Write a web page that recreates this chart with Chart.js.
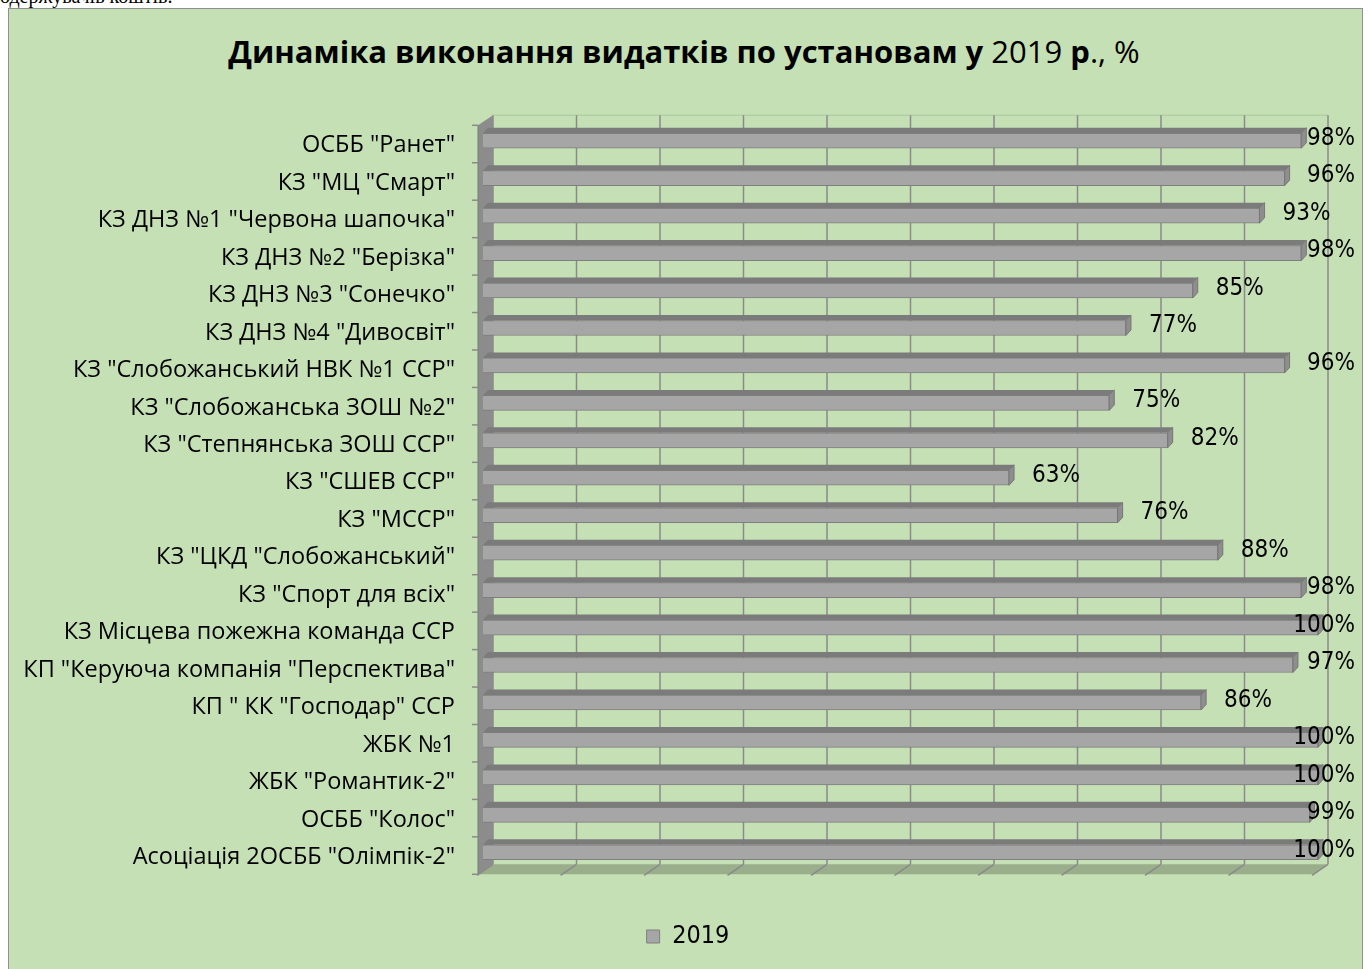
<!DOCTYPE html>
<html>
<head>
<meta charset="utf-8">
<script src="https://cdn.jsdelivr.net/npm/chart.js@4"></script>
<style>
  html, body { margin:0; padding:0; background:#fff; width:1368px; height:969px; overflow:hidden; }
  #frame { position:absolute; left:8px; top:8px; width:1353px; height:980px; border:1px solid #8f8f8f; background:#c5e0b4; }
  #above { position:absolute; left:0; top:-15px; font:20px "Liberation Serif", serif; color:#000; white-space:nowrap; }
  #title { position:absolute; left:0; top:30px; width:1368px; text-align:center; font:31px "Open Sans", sans-serif; color:#000; white-space:nowrap; }
  #title b { font-weight:700; }
  canvas { position:absolute; left:0; top:0; }
</style>
</head>
<body>
<div id="above">одержувачів коштів.</div>
<div id="frame"></div>
<div id="title"><b>Динаміка виконання видатків по установам у</b> 2019 <b>р</b>., %</div>
<canvas id="c" width="1368" height="969"></canvas>
<script>
const categories = [
  'ОСББ "Ранет"',
  'КЗ "МЦ "Смарт"',
  'КЗ ДНЗ №1 "Червона шапочка"',
  'КЗ ДНЗ №2 "Берізка"',
  'КЗ ДНЗ №3 "Сонечко"',
  'КЗ ДНЗ №4 "Дивосвіт"',
  'КЗ "Слобожанський НВК №1 ССР"',
  'КЗ "Слобожанська ЗОШ №2"',
  'КЗ "Степнянська ЗОШ ССР"',
  'КЗ "СШЕВ ССР"',
  'КЗ "МССР"',
  'КЗ "ЦКД "Слобожанський"',
  'КЗ "Спорт для всіх"',
  'КЗ Місцева пожежна команда ССР',
  'КП "Керуюча компанія "Перспектива"',
  'КП " КК "Господар" ССР',
  'ЖБК №1',
  'ЖБК "Романтик-2"',
  'ОСББ "Колос"',
  'Асоціація 2ОСББ "Олімпік-2"'
];
const seriesName = '2019';
const values2019 = [98, 96, 93, 98, 85, 77, 96, 75, 82, 63, 76, 88, 98, 100, 97, 86, 100, 100, 99, 100];
const gridValues = [0, 10, 20, 30, 40, 50, 60, 70, 80, 90, 100];

const LABEL_FONT = '"Liberation Sans Narrow", "DejaVu Sans Condensed", sans-serif';

const FX = -5, FY = 3.3;   // front plane offset from bar plane
const BX = 10, BY = -6.7;  // back plane offset from bar plane
const DX = 5, DY = 5.5;    // bar depth

const excel3d = {
  id: 'excel3d',
  beforeDatasetsDraw(chart) {
    const {ctx, chartArea: a, scales: {x, y}} = chart;
    const x100 = x.getPixelForValue(100);
    ctx.save();
    ctx.strokeStyle = '#b2cfa3';
    ctx.lineWidth = 1.5;
    ctx.beginPath();
    ctx.moveTo(a.left + BX, a.top + BY);
    ctx.lineTo(x100 + BX, a.top + BY);
    ctx.stroke();
    ctx.strokeStyle = '#8a8a8a';
    ctx.lineWidth = 1.5;
    gridValues.forEach(v => {
      const px = x.getPixelForValue(v) + BX;
      ctx.beginPath();
      ctx.moveTo(px, a.top + BY);
      ctx.lineTo(px, a.bottom + BY);
      ctx.stroke();
    });
    ctx.fillStyle = '#9aae8c';
    ctx.beginPath();
    ctx.moveTo(a.left + FX, a.bottom + FY);
    ctx.lineTo(x100 + FX, a.bottom + FY);
    ctx.lineTo(x100 + BX, a.bottom + BY);
    ctx.lineTo(a.left + BX, a.bottom + BY);
    ctx.closePath();
    ctx.fill();
    ctx.strokeStyle = '#8a8a8a';
    ctx.lineWidth = 1.5;
    gridValues.forEach(v => {
      const px = x.getPixelForValue(v);
      ctx.beginPath();
      ctx.moveTo(px + BX, a.bottom + BY);
      ctx.lineTo(px + FX - 1, a.bottom + FY + 1);
      ctx.stroke();
    });
    ctx.fillStyle = '#8c8c8c';
    ctx.beginPath();
    ctx.moveTo(a.left + FX, a.top + FY);
    ctx.lineTo(a.left + BX, a.top + BY);
    ctx.lineTo(a.left + BX, a.bottom + BY);
    ctx.lineTo(a.left + FX, a.bottom + FY);
    ctx.closePath();
    ctx.fill();
    ctx.strokeStyle = '#7a7a7a';
    ctx.lineWidth = 1;
    ctx.beginPath();
    ctx.moveTo(a.left + FX, a.top + FY);
    ctx.lineTo(a.left + FX, a.bottom + FY);
    ctx.stroke();
    ctx.strokeStyle = '#8a8a8a';
    ctx.lineWidth = 1.5;
    for (let i = 0; i <= categories.length; i++) {
      const yy = y.getPixelForValue(i - 0.5) + FY;
      ctx.beginPath();
      ctx.moveTo(a.left + FX - 6, yy);
      ctx.lineTo(a.left + FX, yy);
      ctx.stroke();
    }
    ctx.restore();
  },
  afterDatasetsDraw(chart) {
    const {ctx} = chart;
    const meta = chart.getDatasetMeta(0);
    const data = chart.data.datasets[0].data;
    ctx.save();
    meta.data.forEach((el) => {
      const x0 = el.base, x1 = el.x;
      const t = el.y - el.height / 2, b = el.y + el.height / 2;
      ctx.fillStyle = '#7b7b7b';
      ctx.beginPath();
      ctx.moveTo(x0, t);
      ctx.lineTo(x0 + DX, t - DY);
      ctx.lineTo(x1 + DX, t - DY);
      ctx.lineTo(x1, t);
      ctx.closePath();
      ctx.fill();
      ctx.fillStyle = '#8e8e8e';
      ctx.beginPath();
      ctx.moveTo(x1, t);
      ctx.lineTo(x1 + DX, t - DY);
      ctx.lineTo(x1 + DX, b - DY);
      ctx.lineTo(x1, b);
      ctx.closePath();
      ctx.fill();
      ctx.strokeStyle = '#777';
      ctx.lineWidth = 1;
      ctx.stroke();
    });
    ctx.font = '24px ' + LABEL_FONT;
    ctx.fillStyle = '#000';
    ctx.textBaseline = 'middle';
    ctx.textAlign = 'left';
    meta.data.forEach((el, i) => {
      const txt = data[i] + '%';
      const w = ctx.measureText(txt).width;
      const lx = Math.min(el.x + 23, chart.width - 13 - w);
      ctx.fillText(txt, lx, el.y - 2);
    });
    ctx.restore();
  }
};

new Chart(document.getElementById('c'), {
  type: 'bar',
  data: {
    labels: categories,
    datasets: [{
      label: seriesName,
      data: values2019,
      backgroundColor: '#a6a6a6',
      borderColor: '#7f7f7f',
      borderWidth: 1,
      barThickness: 15
    }]
  },
  options: {
    indexAxis: 'y',
    responsive: false,
    animation: false,
    devicePixelRatio: 1,
    layout: { padding: { top: 122, bottom: 10, left: 8, right: 0 } },
    scales: {
      x: {
        min: 0, max: 100,
        grid: { display: false, drawTicks: false },
        border: { display: false },
        ticks: { display: false },
        afterFit(scale) { scale.height = 43; }
      },
      y: {
        grid: { display: false, drawTicks: false },
        border: { display: false },
        ticks: {
          color: '#000',
          padding: 28,
          labelOffset: 5,
          autoSkip: false,
          font: { family: '"Open Sans", sans-serif', size: 23.5 }
        },
        afterFit(scale) { scale.width = 475; }
      },
      yRight: {
        type: 'linear',
        position: 'right',
        grid: { display: false, drawTicks: false },
        border: { display: false },
        ticks: { display: false },
        afterFit(scale) { scale.width = 50; }
      }
    },
    plugins: {
      title: { display: false },
      tooltip: { enabled: false },
      legend: {
        position: 'bottom',
        labels: {
          color: '#000',
          boxWidth: 13,
          boxHeight: 13,
          padding: 10,
          font: { family: LABEL_FONT, size: 25 }
        }
      }
    }
  },
  plugins: [excel3d]
});
</script>
</body>
</html>
